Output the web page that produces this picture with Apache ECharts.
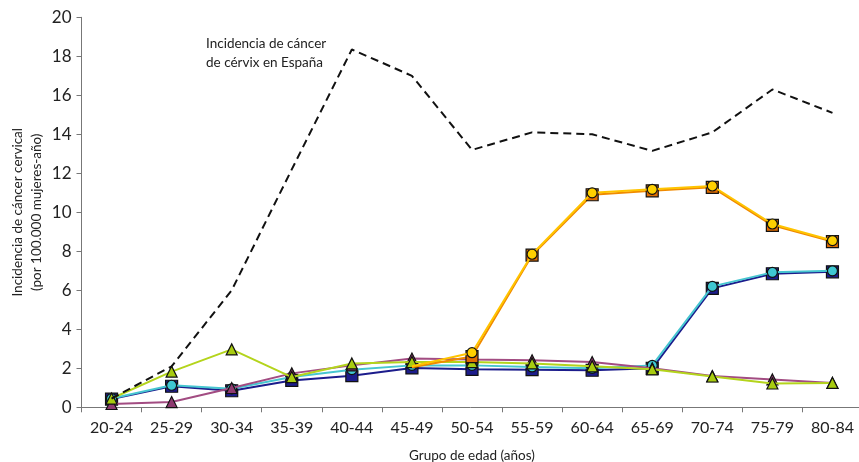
<!DOCTYPE html>
<html>
<head>
<meta charset="utf-8">
<script src="https://cdn.jsdelivr.net/npm/echarts@6/dist/echarts.min.js"></script>
<style>
  html, body { margin: 0; padding: 0; background: #fff; }
  #chart { width: 859px; height: 462px; }
</style>
</head>
<body>
<div id="chart"></div>
<script>
// Age groups (x axis)
const ageGroups = ['20-24','25-29','30-34','35-39','40-44','45-49','50-54','55-59','60-64','65-69','70-74','75-79','80-84'];

// Observed cervical cancer incidence in Spain (dashed line)
const spainIncidence = [0.45, 2.1, 6.0, 12.2, 18.35, 17.0, 13.2, 14.1, 14.0, 13.15, 14.1, 16.3, 15.1];

// Modelled incidence curves (per 100,000 women-years)
const navySquares    = [0.42, 1.08, 0.85, 1.38, 1.62, 2.02, 1.95, 1.93, 1.9, 2.0, 6.1, 6.85, 6.95];
const cyanCircles    = [0.45, 1.13, 0.95, 1.55, 1.93, 2.15, 2.15, 2.07, 2.0, 2.15, 6.2, 6.92, 7.0];
const mauveTriangles = [0.17, 0.27, 0.99, 1.74, 2.15, 2.5, 2.45, 2.41, 2.32, 2.0, 1.6, 1.43, 1.25];
const greenTriangles = [0.45, 1.83, 2.97, 1.55, 2.25, 2.32, 2.32, 2.25, 2.1, 1.95, 1.58, 1.22, 1.25];
const orangeSquares  = [null, null, null, null, null, 2.05, 2.6, 7.8, 10.9, 11.1, 11.28, 9.33, 8.5];
const yellowCircles  = [null, null, null, null, null, 2.1, 2.8, 7.85, 11.0, 11.18, 11.35, 9.4, 8.55];

// Y axis ticks
const yMin = 0, yMax = 20, yStep = 2;

const FONT = 'Lato, "Open Sans", sans-serif';

// The branching curves start from the shared baseline without a marker of their own
function hideFirstMarker(values) {
  let first = true;
  return values.map(v => {
    if (v === null) return null;
    if (first) { first = false; return { value: v, symbol: 'none' }; }
    return v;
  });
}

function lineSeries(name, data, lineColor, symbol, size, fill, z) {
  return {
    name, type: 'line', data, z,
    symbol, symbolSize: size,
    showAllSymbol: true,
    connectNulls: false,
    lineStyle: { color: lineColor, width: 2 },
    itemStyle: { color: fill, borderColor: '#111', borderWidth: 1.2 },
    emphasis: { disabled: true },
    animation: false
  };
}

const chart = echarts.init(document.getElementById('chart'), null, { renderer: 'canvas' });
chart.setOption({
  backgroundColor: '#fff',
  animation: false,
  grid: { left: 81.5, top: 17.3, width: 781, height: 390, containLabel: false, outerBoundsMode: 'none' },
  xAxis: {
    type: 'category',
    data: ageGroups,
    boundaryGap: true,
    name: 'Grupo de edad (años)',
    nameLocation: 'middle',
    nameGap: 41,
    nameMoveOverlap: false,
    nameTextStyle: { fontFamily: FONT, fontSize: 13.5, color: '#222' },
    axisLine: { lineStyle: { color: '#777', width: 1 } },
    axisTick: { show: true, length: 5, alignWithLabel: false, lineStyle: { color: '#777' } },
    axisLabel: { fontFamily: FONT, fontSize: 16, color: '#222', margin: 13, interval: 0 },
    splitLine: { show: false }
  },
  yAxis: {
    type: 'value',
    min: yMin, max: yMax, interval: yStep,
    name: 'Incidencia de cáncer cervical\n(por 100.000 mujeres-año)',
    nameLocation: 'middle',
    nameRotate: 90,
    nameGap: 35,
    nameMoveOverlap: false,
    nameTextStyle: { fontFamily: FONT, fontSize: 13.5, color: '#222', lineHeight: 19 },
    axisLine: { show: true, lineStyle: { color: '#777', width: 1 } },
    axisTick: { show: true, length: 5, lineStyle: { color: '#777' } },
    axisLabel: { fontFamily: FONT, fontSize: 17, color: '#222', margin: 10 },
    splitLine: { show: false }
  },
  graphic: [{
    type: 'text',
    left: 206, top: 34,
    style: {
      text: 'Incidencia de cáncer\nde cérvix en España',
      font: '13.5px ' + FONT,
      fill: '#222',
      lineHeight: 19
    }
  }],
  series: [
    lineSeries('Modelo A', navySquares, '#1c1c8c', 'rect', 12, '#1c1c8c', 2),
    lineSeries('Modelo B', cyanCircles, '#46c6d0', 'circle', 10, '#3fc7d2', 3),
    lineSeries('Modelo C', mauveTriangles, '#a24c82', 'triangle', 11, '#8e3a70', 4),
    lineSeries('Modelo D', greenTriangles, '#b4d41c', 'triangle', 11, '#a8cc10', 5),
    lineSeries('Modelo E', hideFirstMarker(orangeSquares), '#f08a00', 'rect', 12, '#e06c00', 6),
    lineSeries('Modelo F', hideFirstMarker(yellowCircles), '#ffc400', 'circle', 10, '#ffd000', 7),
    {
      name: 'España', type: 'line', data: spainIncidence, z: 8,
      symbol: 'none',
      lineStyle: { color: '#111', width: 2, type: [8, 5] },
      emphasis: { disabled: true },
      animation: false
    }
  ]
});
</script>
</body>
</html>
